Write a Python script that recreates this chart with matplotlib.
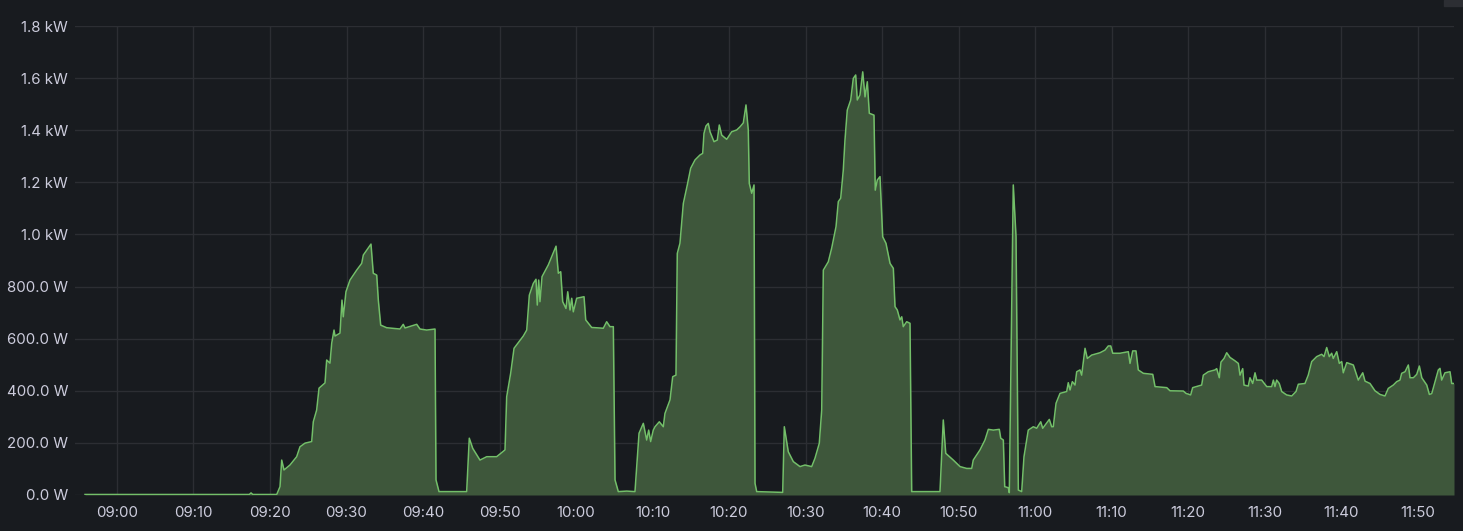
import matplotlib.pyplot as plt
from matplotlib.patches import Rectangle

# minutes after 09:00 and power in watts
minutes = [
    -4.18, 17.3, 17.52, 17.75, 20.88, 21.31, 21.53, 21.83, 22.61, 23.49, 23.92, 24.58, 25.45, 25.66,
    26.10, 26.41, 27.19, 27.41, 27.84, 28.07, 28.37, 28.50, 29.15, 29.41, 29.58, 29.93, 30.46, 31.33,
    31.99, 32.20, 33.20, 33.50, 33.95, 34.16, 34.47, 35.25, 36.99, 37.42, 37.65, 39.18, 39.61, 40.48,
    41.57, 41.70, 42.09, 45.71, 46.05, 46.50, 47.45, 48.33, 49.63, 50.72, 50.94, 51.46, 51.90, 53.11,
    53.56, 53.90, 54.42, 54.77, 54.94, 55.12, 55.29, 55.56, 56.38, 57.39, 57.69, 58.00, 58.26, 58.69,
    58.92, 59.22, 59.44, 59.65, 60.09, 61.05, 61.27, 62.05, 63.57, 64.01, 64.44, 64.88, 65.10, 65.53,
    66.63, 67.71, 68.24, 68.80, 69.24, 69.50, 69.76, 70.10, 70.33, 70.89, 71.41, 71.63, 72.29, 72.64,
    73.07, 73.24, 73.59, 74.03, 74.55, 74.99, 75.56, 76.21, 76.56, 76.73, 76.99, 77.29, 77.52, 78.04,
    78.47, 78.73, 79.05, 79.70, 80.35, 81.01, 81.44, 81.87, 82.22, 82.52, 82.65, 82.97, 83.27, 83.40,
    83.62, 87.02, 87.23, 87.75, 88.41, 89.28, 89.93, 90.81, 91.24, 91.80, 92.12, 92.33, 92.98, 93.42,
    93.99, 94.29, 94.60, 94.94, 95.16, 95.46, 95.91, 96.25, 96.56, 96.77, 97.12, 97.48, 97.78, 98.08,
    98.34, 98.95, 99.12, 99.39, 99.74, 100.09, 100.52, 101.05, 101.48, 101.70, 102.00, 102.35, 102.58,
    102.78, 103.23, 103.66, 103.88, 107.58, 108.01, 108.33, 109.32, 110.20, 111.07, 111.73, 111.93,
    112.81, 113.46, 113.90, 114.55, 115.33, 115.52, 115.86, 116.04, 116.51, 116.64, 117.16, 117.52,
    117.82, 118.26, 118.56, 119.12, 119.78, 120.22, 120.75, 121.01, 121.87, 122.18, 122.39, 122.75,
    123.27, 124.14, 124.35, 124.58, 124.88, 125.23, 125.45, 125.88, 126.10, 126.54, 126.84, 127.41,
    128.50, 129.15, 129.58, 129.90, 130.16, 131.11, 132.20, 132.42, 132.77, 133.20, 133.50, 134.16,
    135.39, 135.69, 137.22, 137.65, 139.39, 139.74, 140.35, 140.61, 141.79, 142.00, 142.65, 143.53,
    143.75, 144.09, 144.31, 144.71, 145.06, 145.49, 146.14, 146.58, 146.80, 147.15, 147.32, 147.88,
    148.10, 148.46, 148.76, 148.98, 149.63, 150.29, 150.94, 151.16, 151.37, 151.59, 151.93, 152.25,
    152.90, 153.56, 154.12, 154.42, 155.29, 155.72, 156.17, 156.82, 157.48, 157.78, 158.13, 158.47,
    158.78, 158.99, 159.44, 159.78, 160.09, 160.30, 160.75, 161.61, 162.26, 162.84, 163.14, 163.79,
    164.44, 165.10, 165.75, 166.18, 166.84, 167.28, 167.71, 167.93, 168.37, 168.80, 169.02, 169.46,
    169.90, 170.24, 170.56, 171.21, 171.55, 171.86, 172.29, 172.72, 172.94, 173.16, 173.59, 174.25,
    174.47, 174.77,
]
watts = [
    2, 2, 8, 2, 2, 32, 134, 96, 115, 147, 185, 199, 205, 281,
    326, 410, 430, 518, 506, 583, 633, 610, 621, 748, 684, 780, 825, 863,
    889, 921, 963, 851, 844, 748, 652, 642, 637, 655, 641, 655, 637, 633,
    637, 58, 13, 13, 218, 179, 134, 147, 147, 173, 377, 467, 563, 610,
    633, 767, 812, 828, 729, 825, 742, 838, 883, 955, 851, 857, 742, 716,
    780, 710, 755, 703, 755, 761, 672, 643, 640, 665, 646, 646, 58, 13,
    15, 13, 237, 275, 211, 249, 205, 249, 262, 281, 262, 313, 365, 454,
    460, 927, 966, 1119, 1190, 1254, 1286, 1305, 1311, 1388, 1416, 1426, 1394, 1356,
    1362, 1420, 1381, 1365, 1394, 1401, 1413, 1428, 1497, 1401, 1196, 1158, 1190, 45,
    13, 10, 262, 166, 128, 109, 115, 109, 141, 198, 326, 863, 895, 947,
    1030, 1126, 1139, 1247, 1362, 1477, 1516, 1599, 1612, 1516, 1535, 1624, 1528, 1586,
    1465, 1458, 1170, 1209, 1222, 991, 966, 889, 870, 723, 710, 672, 684,
    646, 665, 659, 13, 13, 288, 160, 134, 109, 102, 102, 134,
    173, 211, 252, 249, 252, 218, 211, 32, 28, 9, 1190, 991,
    19, 13, 147, 249, 262, 256, 281, 256, 290, 262, 262, 352,
    390, 397, 431, 403, 435, 422, 473, 480, 460, 563, 524, 537,
    546, 556, 572, 572, 544, 544, 550, 505, 553, 553, 480, 467,
    463, 416, 412, 400, 399, 390, 384, 412, 422, 460, 473, 480,
    485, 450, 510, 524, 546, 528, 515, 505, 460, 485, 422, 418,
    450, 428, 469, 441, 441, 416, 416, 441, 416, 441, 428, 397,
    384, 380, 397, 425, 428, 460, 512, 531, 540, 531, 566, 531,
    544, 524, 550, 505, 512, 469, 508, 499, 441, 469, 437, 428,
    400, 386, 380, 409, 422, 435, 441, 467, 473, 499, 450, 450,
    463, 495, 450, 422, 386, 389, 435, 480, 486, 441, 469, 473,
    428, 428,
]

x_ticks = list(range(0, 171, 10))
x_labels = ["09:00", "09:10", "09:20", "09:30", "09:40", "09:50", "10:00", "10:10", "10:20",
            "10:30", "10:40", "10:50", "11:00", "11:10", "11:20", "11:30", "11:40", "11:50"]
y_ticks = [0, 200, 400, 600, 800, 1000, 1200, 1400, 1600, 1800]
y_labels = ["0.0 W", "200.0 W", "400.0 W", "600.0 W", "800.0 W",
            "1.0 kW", "1.2 kW", "1.4 kW", "1.6 kW", "1.8 kW"]

bg = "#181b1f"
plt.rcParams['font.family'] = ['Inter', 'DejaVu Sans']

fig = plt.figure(figsize=(14.63, 5.31), dpi=100, facecolor=bg)
ax = fig.add_axes([75 / 1463, 1 - 495 / 531, (1454 - 75) / 1463, (495 - 26) / 531])
ax.set_facecolor(bg)

ax.fill_between(minutes, watts, 0, color="#3e573b", linewidth=0)
ax.plot(minutes, watts, color="#73bf69", linewidth=1.1)

ax.set_xlim(-5.49, 174.77)
ax.set_ylim(0, 1800)
ax.set_xticks(x_ticks)
ax.set_xticklabels(x_labels)
ax.set_yticks(y_ticks)
ax.set_yticklabels(y_labels)
ax.grid(True, color="#2c2e33", linewidth=1)
ax.set_axisbelow(True)
ax.tick_params(length=0, colors="#ccccdc", labelsize=10.8)
ax.tick_params(axis="x", pad=8)
ax.tick_params(axis="y", pad=5)
for s in ax.spines.values():
    s.set_visible(False)

# little scrollbar stub in the top right corner
fig.patches.append(Rectangle((1444 / 1463, 1 - 6 / 531), 19 / 1463, 6 / 531,
                             transform=fig.transFigure, color="#2c2e33"))

plt.savefig("out.png", dpi=100, facecolor=bg)
